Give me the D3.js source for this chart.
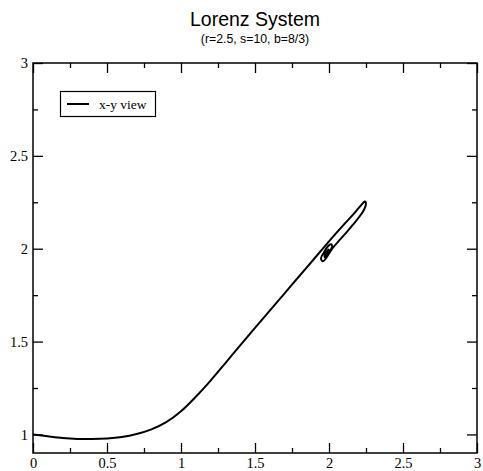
<!DOCTYPE html>
<html><head><meta charset="utf-8">
<script src="https://cdn.jsdelivr.net/npm/d3@7"></script>
<style>body{margin:0;background:#fff}svg{display:block}</style>
</head><body>
<script>
const title = "Lorenz System";
const subtitle = "(r=2.5, s=10, b=8/3)";
const seriesName = "x-y view";
const xTicks = [0, 0.5, 1, 1.5, 2, 2.5, 3];
const yTicks = [1, 1.5, 2, 2.5, 3];
const xMinor = [0.25, 0.75, 1.25, 1.75, 2.25, 2.75];
const yMinor = [1.25, 1.75, 2.25, 2.75];
const xs = [0,0.1,0.2,0.3,0.4,0.5,0.6,0.7,0.8,0.9,1.0,1.1,1.2,1.3,1.4,1.5,1.6,1.7,1.8,1.9,2.0,2.1,2.17,2.21,2.232,2.243,2.249,2.247,2.233,2.205,2.165,2.115,2.061,2.027,1.959,1.946,1.966,1.993,2.014,2.02,1.993,1.973,1.973,1.993,2.0];
const ys = [1.0,0.99,0.981,0.976,0.975,0.978,0.986,1.002,1.027,1.066,1.125,1.203,1.29,1.384,1.48,1.574,1.667,1.76,1.853,1.946,2.04,2.13,2.19,2.228,2.248,2.254,2.247,2.23,2.205,2.172,2.132,2.085,2.037,2.006,1.932,1.948,1.98,2.013,2.024,2.008,1.975,1.954,1.97,1.992,1.998];

const W = 483, H = 471;
const svg = d3.select("body").append("svg").attr("width", W).attr("height", H);
const L = 33, R = 477, T = 63, B = 453;
const x = d3.scaleLinear().domain([0, 3]).range([L, R]);
const y = d3.scaleLinear().domain([0.9, 3]).range([B, T]);

svg.append("text").attr("x", (L + R) / 2).attr("y", 26).attr("text-anchor", "middle")
  .attr("font-family", "Liberation Sans, Arial, sans-serif").attr("font-size", 19.5).text(title);
svg.append("text").attr("x", (L + R) / 2).attr("y", 43).attr("text-anchor", "middle")
  .attr("font-family", "Liberation Sans, Arial, sans-serif").attr("font-size", 12.3).text(subtitle);

const serif = "Liberation Serif, Times New Roman, serif";
function tickAxis(axisGen, tr, size) {
  const g = svg.append("g").attr("transform", tr).call(axisGen.tickSize(size));
  g.select(".domain").remove();
  g.selectAll(".tick line").attr("stroke", "#000").attr("stroke-width", 1.3);
  return g;
}
const fmt = d3.format("");
const gb = tickAxis(d3.axisBottom(x).tickValues(xTicks).tickFormat(fmt), `translate(0,${B})`, -10);
gb.selectAll("text").attr("font-family", serif).attr("font-size", 14.5).attr("fill", "#000").attr("y", 5).attr("dy", "0.71em");
tickAxis(d3.axisBottom(x).tickValues(xMinor).tickFormat(""), `translate(0,${B})`, -5);
tickAxis(d3.axisTop(x).tickValues(xTicks).tickFormat(""), `translate(0,${T})`, -10);
tickAxis(d3.axisTop(x).tickValues(xMinor).tickFormat(""), `translate(0,${T})`, -5);
const gl = tickAxis(d3.axisLeft(y).tickValues(yTicks).tickFormat(fmt), `translate(${L},0)`, -10);
gl.selectAll("text").attr("font-family", serif).attr("font-size", 14.5).attr("fill", "#000").attr("x", -5);
tickAxis(d3.axisLeft(y).tickValues(yMinor).tickFormat(""), `translate(${L},0)`, -5);
tickAxis(d3.axisRight(y).tickValues(yTicks).tickFormat(""), `translate(${R},0)`, -10);
tickAxis(d3.axisRight(y).tickValues(yMinor).tickFormat(""), `translate(${R},0)`, -5);

svg.append("rect").attr("x", L).attr("y", T).attr("width", R - L).attr("height", B - T)
  .attr("fill", "none").attr("stroke", "#000").attr("stroke-width", 1.5);

const pts = xs.map((v, i) => [v, ys[i]]);
svg.append("path").datum(pts)
  .attr("d", d3.line().x(d => x(d[0])).y(d => y(d[1])).curve(d3.curveCatmullRom.alpha(0.5)))
  .attr("fill", "none").attr("stroke", "#000").attr("stroke-width", 2);

const lg = svg.append("g");
lg.append("rect").attr("x", 60.5).attr("y", 91.5).attr("width", 95).attr("height", 25)
  .attr("fill", "#fff").attr("stroke", "#000").attr("stroke-width", 1.2);
lg.append("line").attr("x1", 67).attr("x2", 89).attr("y1", 104).attr("y2", 104)
  .attr("stroke", "#000").attr("stroke-width", 2);
lg.append("text").attr("x", 99).attr("y", 108.5).attr("font-family", serif).attr("font-size", 13.5).text(seriesName);
</script>
</body></html>
